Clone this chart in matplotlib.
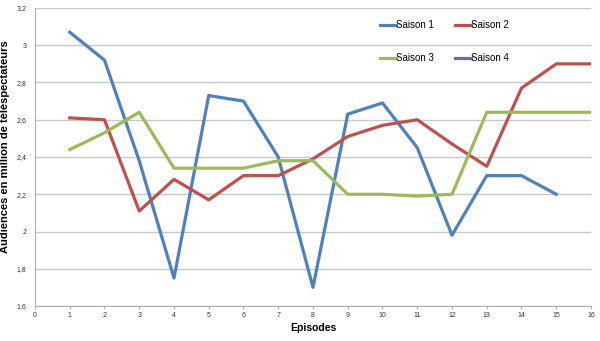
import matplotlib.pyplot as plt

plt.rcParams["font.family"] = ["Liberation Sans", "DejaVu Sans"]

episodes_s1 = list(range(1, 16))
saison_1 = [3.07, 2.92, 2.38, 1.75, 2.73, 2.70, 2.40, 1.70, 2.63, 2.69, 2.45, 1.98, 2.30, 2.30, 2.20]
episodes_s2 = list(range(1, 17))
saison_2 = [2.61, 2.60, 2.11, 2.28, 2.17, 2.30, 2.30, 2.39, 2.51, 2.57, 2.60, 2.47, 2.35, 2.77, 2.90, 2.90]
episodes_s3 = list(range(1, 17))
saison_3 = [2.44, 2.53, 2.64, 2.34, 2.34, 2.34, 2.38, 2.38, 2.20, 2.20, 2.19, 2.20, 2.64, 2.64, 2.64, 2.64]
episodes_s4 = []
saison_4 = []

x_ticks = list(range(0, 17))
y_ticks = [1.6, 1.8, 2.0, 2.2, 2.4, 2.6, 2.8, 3.0, 3.2]
y_labels = ["1,6", "1,8", "2", "2,2", "2,4", "2,6", "2,8", "3", "3,2"]

fig = plt.figure(figsize=(6.0, 3.41), dpi=100)
ax = fig.add_axes([0.0583, 0.1026, 0.9267, 0.874])

lw = 2.3
l1, = ax.plot(episodes_s1, saison_1, color="#4F81BD", lw=lw, label="Saison 1")
l2, = ax.plot(episodes_s2, saison_2, color="#C0504D", lw=lw, label="Saison 2")
l3, = ax.plot(episodes_s3, saison_3, color="#9BBB59", lw=lw, label="Saison 3")
l4, = ax.plot(episodes_s4, saison_4, color="#8064A2", lw=lw, label="Saison 4")

ax.set_xlim(0, 16)
ax.set_ylim(1.6, 3.2)
ax.set_xticks(x_ticks)
ax.set_xticklabels([str(t) for t in x_ticks])
ax.set_yticks(y_ticks)
ax.set_yticklabels(y_labels)
ax.tick_params(labelsize=5, colors="#333333", length=2, color="#b0b0b0", pad=2)
ax.tick_params(axis="y", length=0, pad=6)

ax.grid(True, axis="y", color="#c8c8c8", lw=1)
ax.set_axisbelow(True)
for side in ["top", "right"]:
    ax.spines[side].set_visible(False)
for side in ["left", "bottom"]:
    ax.spines[side].set_color("#b0b0b0")

ax.set_xlabel("Episodes", fontsize=7.5, fontweight="bold", labelpad=3)
ax.set_ylabel("Audiences en million de téléspectateurs", fontsize=8, fontweight="bold")
ax.yaxis.set_label_coords(-0.045, 0.534)

# legend filled row-wise: Saison 1 | Saison 2 / Saison 3 | Saison 4
fig.legend([l1, l3, l2, l4], ["Saison 1", "Saison 3", "Saison 2", "Saison 4"],
           loc="upper left", bbox_to_anchor=(380 / 600, 1 - 20 / 341), ncol=2, frameon=False,
           fontsize=7, handlelength=1.6, handletextpad=0.05, columnspacing=2.2,
           labelspacing=2.4, borderpad=0, borderaxespad=0)

plt.savefig("out.png", dpi=100)
plt.close(fig)
